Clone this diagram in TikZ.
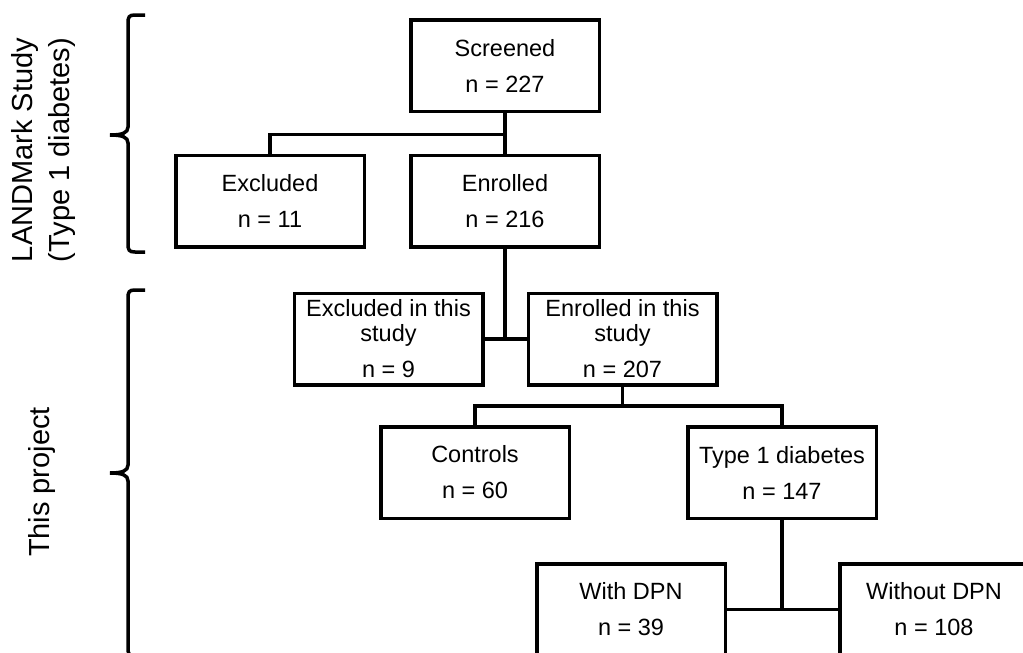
\documentclass[tikz,border=0pt]{standalone}
\usepackage{fontspec}
\setmainfont{Liberation Sans}
\usepackage{tikz}
\newcommand{\flowfont}{\fontsize{23.5}{25}\selectfont}
\newcommand{\sidefont}{\fontsize{29}{37}\selectfont}

\begin{document}
\begin{tikzpicture}[x=1pt, y=1pt,
  box/.style={draw, line width=3.5pt, minimum width=188.5pt, minimum height=91.5pt, align=center, font=\flowfont},
  link/.style={line width=3.5pt},
  side/.style={rotate=90, align=center, font=\sidefont}]
  \useasboundingbox (0,0) rectangle (1023,-653);
  \clip (0,0) rectangle (1023,-653);

  % LANDMark part
  \node[box] (scr) at (505,-65.5) {Screened\\[11pt]n = 227};
  \node[box] (enr) at (505,-201) {Enrolled\\[11pt]n = 216};
  \node[box] (exc) at (270,-201) {Excluded\\[11pt]n = 11};
  % this project
  \node[box] (exs) at (388.5,-339) {Excluded in this\\study\\[11pt]n = 9};
  \node[box] (ens) at (622.5,-339) {Enrolled in this\\study\\[11pt]n = 207};
  \node[box] (ctl) at (475,-472.5) {Controls\\[11pt]n = 60};
  \node[box] (t1d) at (782,-472.5) {Type 1 diabetes\\[11pt]n = 147};
  \node[box] (wdpn) at (631,-609.5) {With DPN\\[11pt]n = 39};
  \node[box] (wodpn) at (934,-609.5) {Without DPN\\[11pt]n = 108};

  \draw[link] (scr.south) -- (enr.north);
  \draw[link] (scr.south) -- ++(0,-21.5) -| (exc.north);
  \draw[link] (enr.south) |- (exs.east);
  \draw[link] (exs.east) -- (ens.west);
  \draw[link] (ens.south) -- ++(0,-19.5) coordinate (j2);
  \draw[link] (j2) -| (ctl.north);
  \draw[link] (j2) -| (t1d.north);
  \draw[link] (t1d.south) |- (wdpn.east);
  \draw[link] (wdpn.east) -- (wodpn.west);

  % braces
  \draw[link] (145,-15) -- (135,-15) .. controls (129,-15) and (128,-17) .. (128,-23)
    -- (128,-127) .. controls (128,-133) and (122,-135) .. (110,-135)
    .. controls (122,-135) and (128,-137) .. (128,-143)
    -- (128,-244) .. controls (128,-250) and (129,-252) .. (135,-252) -- (145,-252);
  \draw[link] (145,-290) -- (135,-290) .. controls (129,-290) and (128,-292) .. (128,-298)
    -- (128,-465) .. controls (128,-471) and (122,-473) .. (110,-473)
    .. controls (122,-473) and (128,-475) .. (128,-481)
    -- (128,-648) .. controls (128,-654) and (129,-656) .. (135,-656) -- (145,-656);

  \node[side] (lmk) at (43.5,-150) {LANDMark Study\\(Type 1 diabetes)};
  \node[side] (prj) at (42,-482) {This project};
\end{tikzpicture}
\end{document}
